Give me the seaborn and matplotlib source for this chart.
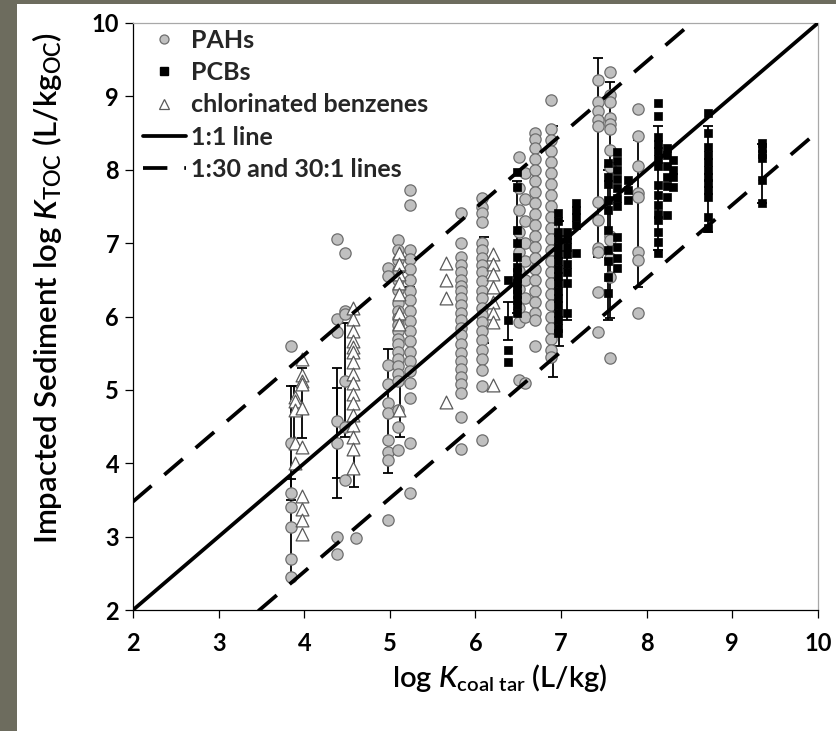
import numpy as np
import pandas as pd
import matplotlib
matplotlib.use("Agg")
import matplotlib.pyplot as plt
import seaborn as sns
from matplotlib.lines import Line2D
from matplotlib.patches import Rectangle

# ---------------- data ----------------
# PAHs: column x positions and the y values in each column
pah_x = [3.85, 4.38, 4.48, 4.60, 4.98, 5.10, 5.23, 5.83, 6.08, 6.51, 6.58, 6.70,
         6.88, 7.43, 7.57, 7.90]
pah_y = [
    [5.60, 4.27, 3.60, 3.40, 3.13, 2.70, 2.45],
    [7.05, 5.96, 5.79, 4.57, 4.27, 3.00, 2.77],
    [6.86, 6.08, 6.04, 5.12, 4.50, 3.77],
    [2.98],
    [6.66, 6.55, 5.34, 5.08, 4.82, 4.69, 4.32, 4.16, 4.05, 3.22],
    [7.04, 6.90, 6.77, 6.63, 6.50, 6.36, 6.18, 6.08, 5.98, 5.88, 5.80, 5.70, 5.62,
     5.52, 5.42, 5.33, 5.22, 5.12, 4.73, 4.50, 4.18],
    [7.72, 7.52, 6.91, 6.78, 6.65, 6.50, 6.35, 6.22, 6.08, 5.94, 5.80, 5.66, 5.52,
     5.40, 5.26, 5.10, 4.89, 4.28, 3.60],
    [7.41, 7.00, 6.81, 6.70, 6.60, 6.50, 6.42, 6.35, 6.25, 6.15, 6.05, 5.95, 5.85,
     5.75, 5.62, 5.50, 5.40, 5.28, 5.18, 5.08, 4.96, 4.63, 4.20],
    [7.62, 7.49, 7.41, 7.29, 7.00, 6.90, 6.80, 6.70, 6.60, 6.48, 6.35, 6.25, 6.12,
     6.02, 5.92, 5.80, 5.68, 5.55, 5.42, 5.27, 5.05, 4.32],
    [8.17, 7.75, 7.45, 7.15, 6.88, 6.62, 6.38, 6.12, 5.92, 5.14],
    [7.95, 7.60, 7.30, 7.00, 6.75, 6.50, 6.25, 6.00, 5.10],
    [8.50, 8.42, 8.30, 8.15, 8.00, 7.85, 7.70, 7.55, 7.40, 7.25, 7.10, 6.95, 6.80,
     6.65, 6.50, 6.35, 6.20, 6.05, 5.95, 5.60],
    [8.95, 8.55, 8.40, 8.25, 8.10, 7.95, 7.80, 7.65, 7.50, 7.35, 7.20, 7.05, 6.90,
     6.75, 6.60, 6.45, 6.30, 6.15, 6.00, 5.85, 5.70, 5.55, 5.45],
    [9.22, 8.92, 8.80, 8.68, 8.60, 7.56, 7.32, 6.93, 6.88, 6.34, 5.79],
    [9.33, 9.02, 8.92, 8.70, 8.62, 8.55, 8.27, 8.04, 7.10, 7.04, 6.80, 6.54, 5.44],
    [8.83, 8.46, 8.05, 7.68, 7.63, 6.88, 6.77, 6.05],
]

# PCBs
pcb_x = [6.38, 6.48, 6.96, 7.07, 7.17, 7.55, 7.65, 7.78, 8.13, 8.24, 8.31, 8.71, 9.35]
pcb_y = [
    [6.50, 5.95, 5.55, 5.38],
    [7.97, 7.77, 7.18, 7.00, 6.81, 6.68, 6.60, 6.52, 6.45, 6.38, 6.30, 6.22, 6.15, 6.05],
    [7.41, 7.30, 7.15, 7.05, 6.95, 6.85, 6.75, 6.65, 6.55, 6.45, 6.35, 6.25, 6.15,
     6.05, 5.95, 5.85, 5.78],
    [7.15, 7.05, 6.95, 6.85, 6.72, 6.60, 6.46, 6.05],
    [7.55, 7.45, 7.35, 7.25, 6.87],
    [8.09, 7.90, 7.80, 7.59, 7.45, 7.18, 6.91, 6.75, 6.54, 6.32],
    [8.24, 8.12, 8.00, 7.88, 7.75, 7.62, 7.50, 7.08, 6.95, 6.80, 6.66],
    [7.86, 7.72, 7.59],
    [8.91, 8.73, 8.45, 8.35, 8.25, 8.15, 8.05, 7.79, 7.65, 7.52, 7.40, 7.32, 7.15,
     7.01, 6.87],
    [8.30, 8.20, 8.05, 7.90, 7.78, 7.63, 7.38],
    [8.13, 8.00, 7.90, 7.77],
    [8.77, 8.50, 8.31, 8.20, 8.10, 8.00, 7.90, 7.82, 7.72, 7.63, 7.36, 7.20],
    [8.37, 8.30, 8.22, 8.16, 7.86, 7.55],
]

# chlorinated benzenes
cb_x = [3.89, 3.97, 4.57, 5.11, 5.66, 6.20]
cb_y = [
    [4.90, 4.85, 4.73, 4.27, 4.00],
    [5.42, 5.20, 5.12, 5.08, 4.75, 4.22, 3.55, 3.38, 3.22, 3.03],
    [6.12, 5.96, 5.80, 5.67, 5.58, 5.51, 5.38, 5.22, 5.09, 4.95, 4.82, 4.66, 4.52,
     4.36, 4.20, 3.93],
    [6.86, 6.72, 6.58, 6.45, 6.30, 6.05, 5.90, 4.73],
    [6.73, 6.50, 6.25, 4.83],
    [6.85, 6.72, 6.58, 6.40, 6.20, 6.05, 5.93, 5.07],
]

# error bars (x, low, high)
err_x = [3.85, 3.85, 3.88, 3.97, 4.38, 4.38, 4.48, 4.58, 4.98, 5.12, 5.24, 5.83,
         6.10, 6.38, 6.48, 6.91, 6.97, 7.07, 7.43, 7.55, 7.57, 7.90, 8.13, 8.71, 9.35]
err_lo = [2.45, 3.50, 4.27, 4.35, 3.53, 3.80, 4.36, 3.68, 3.87, 4.36, 5.07, 6.30,
          5.64, 5.68, 6.05, 5.18, 5.60, 5.95, 6.81, 5.95, 5.98, 6.40, 6.90, 7.15, 7.55]
err_hi = [3.78, 5.05, 5.05, 5.30, 5.30, 5.03, 5.91, 5.90, 5.56, 6.60, 6.40, 6.40,
          7.08, 6.20, 7.85, 8.60, 7.30, 7.05, 9.52, 8.00, 9.20, 8.40, 8.60, 8.60, 8.35]

ratio = 30  # 1:30 and 30:1 lines
ticks = [2, 3, 4, 5, 6, 7, 8, 9, 10]


def to_long(xs, ys, name):
    rows = [(x, y) for x, col in zip(xs, ys) for y in col]
    df = pd.DataFrame(rows, columns=["x", "y"])
    df["series"] = name
    return df


pah = to_long(pah_x, pah_y, "PAHs")
pcb = to_long(pcb_x, pcb_y, "PCBs")
cb = to_long(cb_x, cb_y, "chlorinated benzenes")

# ---------------- style ----------------
sns.set_theme(style="white")
plt.rcParams["font.family"] = ["Lato", "DejaVu Sans"]
plt.rcParams["mathtext.fontset"] = "custom"
plt.rcParams["mathtext.rm"] = "Lato:semibold"
plt.rcParams["mathtext.it"] = "Lato:semibold:italic"
plt.rcParams["mathtext.bf"] = "Lato:bold"

W, H = 837, 731
fig = plt.figure(figsize=(W / 100, H / 100), dpi=100)
fig.patch.set_facecolor("white")
border = "#6d6c5e"
fig.patches.append(Rectangle((0, 0), 17 / W, 1, transform=fig.transFigure,
                             facecolor=border, edgecolor="none", zorder=-1))
fig.patches.append(Rectangle((0, 1 - 4 / H), 1, 4 / H, transform=fig.transFigure,
                             facecolor=border, edgecolor="none", zorder=-1))

ax = fig.add_axes([133 / W, 1 - 610 / H, 685 / W, 587 / H])
ax.set_facecolor("white")

# error bars
mid = [(l + h) / 2 for l, h in zip(err_lo, err_hi)]
half = [(h - l) / 2 for l, h in zip(err_lo, err_hi)]
ax.errorbar(err_x, mid, yerr=half, fmt="none", ecolor="black", elinewidth=1.3,
            capsize=3.5, capthick=1.3, zorder=2)

sns.scatterplot(data=pah, x="x", y="y", ax=ax, marker="o", s=66,
                color="#c0c0c0", edgecolor="#6e6e6e", linewidth=0.9, zorder=3,
                legend=False)
sns.scatterplot(data=pcb, x="x", y="y", ax=ax, marker="s", s=40,
                color="black", edgecolor="black", linewidth=0.5, zorder=4,
                legend=False)
sns.scatterplot(data=cb, x="x", y="y", ax=ax, marker="^", s=85,
                color="white", edgecolor="#5a5a5a", linewidth=0.9, zorder=5,
                legend=False)

xx = np.array([ticks[0], ticks[-1]], dtype=float)
off = np.log10(ratio)
ax.plot(xx, xx, color="black", lw=2.7, zorder=6, solid_capstyle="butt")
ax.plot(xx, xx + off, color="black", lw=2.7, zorder=6, dashes=(6.5, 4.5))
ax.plot(xx, xx - off, color="black", lw=2.7, zorder=6, dashes=(6.5, 4.5))

ax.set_xlim(ticks[0], ticks[-1])
ax.set_ylim(ticks[0], ticks[-1])
tick_font = {"family": ["Lato", "DejaVu Sans"], "weight": "bold", "size": 17}
ax.set_xticks(ticks)
ax.set_yticks(ticks)
ax.set_xticklabels([str(t) for t in ticks], fontdict=tick_font)
ax.set_yticklabels([str(t) for t in ticks], fontdict=tick_font)
ax.set_xlabel("")
ax.set_ylabel("")
ax.tick_params(axis="both", direction="out", length=6, width=0.9, color="black",
               labelcolor="black")
ax.tick_params(axis="x", pad=10)
ax.tick_params(axis="y", pad=4)
ax.tick_params(bottom=True, left=True)

for s in ["left", "bottom"]:
    ax.spines[s].set_color("black")
    ax.spines[s].set_linewidth(0.9)
for s in ["top", "right"]:
    ax.spines[s].set_color("#a8a8a8")
    ax.spines[s].set_linewidth(0.9)

# axis titles
fig.text(500 / W, 1 - 678 / H, r"log $\mathit{K}_{\mathrm{coal\ tar}}$ (L/kg)",
         ha="center", va="center", fontsize=21, fontweight="semibold", color="black")
fig.text(47 / W, 1 - 288 / H,
         r"Impacted Sediment log $\mathit{K}_{\mathrm{TOC}}$ (L/kg$_{\mathrm{OC}}$)",
         ha="center", va="center", rotation=90, fontsize=22.5, fontweight="semibold",
         color="black")

# legend
handles = [
    Line2D([], [], ls="none", marker="o", ms=6.5, mfc="#c0c0c0", mec="#6e6e6e", mew=0.9),
    Line2D([], [], ls="none", marker="s", ms=5.5, mfc="black", mec="black"),
    Line2D([], [], ls="none", marker="^", ms=7, mfc="white", mec="#5a5a5a", mew=0.9),
    Line2D([], [], color="black", lw=2.7),
    Line2D([], [], color="black", lw=2.7, dashes=(6.5, 4.5)),
]
labels = ["PAHs", "PCBs", "chlorinated benzenes", "1:1 line", "1:30 and 30:1 lines"]
leg = ax.legend(handles, labels, loc="upper left", bbox_to_anchor=(0.014, 0.99),
                frameon=False, handlelength=1.75, handletextpad=0.2,
                labelspacing=0.37, borderaxespad=0, borderpad=0,
                prop={"family": ["Lato", "DejaVu Sans"], "weight": "bold", "size": 18})

fig.savefig("out.png", dpi=100, facecolor=fig.get_facecolor())
